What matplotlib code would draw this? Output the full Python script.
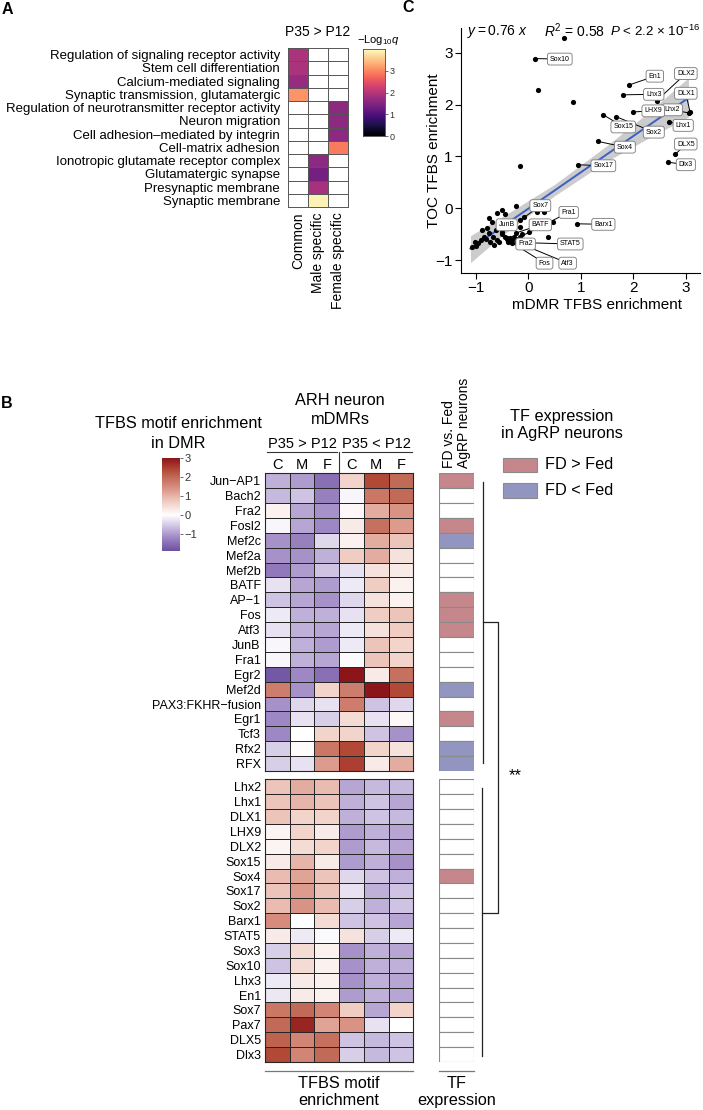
import numpy as np
import matplotlib
matplotlib.use('Agg')
import matplotlib.pyplot as plt
from matplotlib.colors import LinearSegmentedColormap, Normalize
from matplotlib.patches import Rectangle

plt.rcParams['font.family'] = ['Liberation Sans', 'DejaVu Sans']
plt.rcParams['mathtext.fontset'] = 'custom'
plt.rcParams['mathtext.rm'] = 'Liberation Sans'
plt.rcParams['mathtext.it'] = 'Liberation Sans:italic'

# ---------------- Panel A : GO enrichment (-log10 q), None = not enriched
go_terms = ['Regulation of signaling receptor activity', 'Stem cell differentiation',
            'Calcium-mediated signaling', 'Synaptic transmission, glutamatergic',
            'Regulation of neurotransmitter receptor activity', 'Neuron migration',
            'Cell adhesion\u2013mediated by integrin', 'Cell-matrix adhesion',
            'Ionotropic glutamate receptor complex', 'Glutamatergic synapse',
            'Presynaptic membrane', 'Synaptic membrane']
go_groups = ['Common', 'Male specific', 'Female specific']
go_common = [1.9, 1.9, 1.7, 3.1, None, None, None, None, None, None, None, None]
go_male = [None, None, None, None, None, None, None, None, 1.6, 1.35, 1.85, 3.9]
go_female = [None, None, None, None, 1.6, 1.6, 1.6, 2.9, None, None, None, None]

# ---------------- Panel B : TFBS motif enrichment (C, M, F for P35>P12 then P35<P12)
top_tfs = ['Jun\u2212AP1', 'Bach2', 'Fra2', 'Fosl2', 'Mef2c', 'Mef2a', 'Mef2b', 'BATF', 'AP\u22121',
           'Fos', 'Atf3', 'JunB', 'Fra1', 'Egr2', 'Mef2d', 'PAX3:FKHR\u2212fusion', 'Egr1',
           'Tcf3', 'Rfx2', 'RFX']
top_vals = [[-0.8, -1.0, -1.5, 0.6, 2.4, 2.0],
            [-0.7, -0.6, -1.3, -0.1, 1.8, 2.0],
            [0.2, -0.9, -1.1, 0.1, 1.1, 1.4],
            [-0.1, -0.9, -1.2, 0.3, 1.9, 1.3],
            [-1.1, -1.3, -0.4, 0.2, 1.1, 0.8],
            [-1.1, -1.1, -0.8, 0.7, 1.1, 0.4],
            [-1.4, -1.0, -0.6, -0.3, 0.4, 0.3],
            [-0.3, -0.9, -1.0, -0.2, 0.7, 0.2],
            [-0.6, -0.9, -1.1, -0.4, 0.4, 0.2],
            [-0.2, -0.8, -0.8, -0.3, 0.7, 0.8],
            [-0.3, -0.8, -0.9, -0.2, 0.4, 0.7],
            [-0.1, -0.8, -1.0, -0.2, 0.8, 0.6],
            [-0.1, -0.8, -0.9, -0.05, 0.8, 0.6],
            [-1.8, -1.2, -1.5, 3.0, 0.3, 1.9],
            [1.7, -1.1, 0.6, 1.7, 3.0, 2.4],
            [-1.1, -0.4, -0.3, 1.7, -0.6, -0.4],
            [-1.2, -0.3, -0.5, 0.5, -0.3, 0.1],
            [-1.2, 0.0, 0.6, 0.6, -0.6, -1.1],
            [-0.5, 0.05, 1.8, 2.4, 0.6, 0.4],
            [-0.5, -0.3, 1.3, 2.5, 0.3, 1.1]]
top_expr = ['up', '', '', 'up', 'down', '', '', '', 'up', 'up', 'up', '', '', '', 'down', '',
            'up', '', 'down', 'down']

bot_tfs = ['Lhx2', 'Lhx1', 'DLX1', 'LHX9', 'DLX2', 'Sox15', 'Sox4', 'Sox17', 'Sox2', 'Barx1',
           'STAT5', 'Sox3', 'Sox10', 'Lhx3', 'En1', 'Sox7', 'Pax7', 'DLX5', 'Dlx3']
bot_vals = [[0.8, 1.1, 0.9, -0.9, -0.7, -0.7],
            [0.8, 1.0, 0.8, -0.8, -0.6, -0.9],
            [0.8, 0.6, 0.6, -0.8, -0.6, -0.7],
            [0.15, 0.6, 0.3, -1.0, -0.8, -0.9],
            [0.15, 0.5, 0.6, -1.0, -0.7, -0.9],
            [0.3, 1.0, 0.3, -1.0, -0.8, -1.1],
            [0.9, 1.2, 0.8, -0.4, -0.6, -0.8],
            [0.8, 1.3, 0.8, -0.3, -0.8, -0.6],
            [0.9, 1.4, 0.9, -0.5, -0.8, -0.6],
            [1.5, 0.0, 0.5, -0.6, -0.6, -0.9],
            [0.3, -0.2, -0.05, 0.4, -0.5, -0.2],
            [-0.5, 0.5, 0.2, -1.1, -0.8, -0.9],
            [-0.6, 0.5, 0.2, -1.1, -0.8, -0.8],
            [-0.2, 0.3, 0.2, -1.1, -0.8, -0.9],
            [-0.25, 0.3, 0.2, -1.0, -0.8, -0.9],
            [1.8, 2.0, 1.6, 0.7, -0.9, 0.6],
            [2.0, 2.8, 1.2, 1.4, -0.3, 0.0],
            [2.1, 1.6, 1.9, -0.6, -0.7, -0.6],
            [2.4, 1.6, 2.0, -0.5, -0.7, -0.6]]
bot_expr = ['', '', '', '', '', '', 'up', '', '', '', '', '', '', '', '', '', '', '', '']

# ---------------- Panel C : mDMR vs TOC TFBS enrichment
lab_names = ['Sox10', 'En1', 'Lhx3', 'DLX2', 'DLX1', 'Lhx2', 'LHX9', 'Lhx1', 'Sox15', 'Sox2',
             'Sox4', 'Sox17', 'DLX5', 'Dlx3', 'Barx1', 'Sox7', 'JunB', 'BATF', 'Fra1', 'STAT5',
             'Fra2', 'Fos', 'Atf3']
lab_x = [0.12, 1.92, 1.81, 2.45, 3.08, 3.06, 2.0, 2.68, 1.42, 1.67, 1.33, 0.95, 2.8, 2.66,
         0.93, -0.15, -0.5, -0.24, -0.15, -0.21, -0.4, -0.38, -0.35]
lab_y = [2.89, 2.38, 2.19, 2.08, 1.86, 1.84, 1.86, 1.67, 1.81, 1.77, 1.29, 0.84, 1.04, 0.89,
         -0.30, -0.23, -0.45, -0.48, -0.55, -0.66, -0.58, -0.62, -0.6]
lab_tx = [0.60, 2.41, 2.39, 3.0, 3.0, 2.74, 2.38, 2.95, 1.81, 2.39, 1.84, 1.43, 3.0, 3.0,
          1.43, 0.23, -0.41, 0.23, 0.77, 0.8, -0.05, 0.31, 0.75]
lab_ty = [2.88, 2.55, 2.20, 2.6, 2.22, 1.90, 1.88, 1.6, 1.57, 1.47, 1.18, 0.82, 1.24, 0.84,
          -0.31, 0.05, -0.32, -0.32, -0.08, -0.69, -0.69, -1.06, -1.06]
other_x = [0.68, 0.18, 0.85, -0.15, 0.37, 0.48, -1.07, -1.0, -0.95, -0.9, -0.85, -0.8, -0.75,
           -0.72, -0.68, -0.65, -0.62, -0.88, -0.75, -0.69, -0.59, -0.5, -0.45, -0.24, -0.55,
           -0.5, -0.45, -0.4, -0.38, -0.33, -0.3, -0.35, -0.28, -0.2, -0.16, -0.08, 0.01, 0.17,
           0.30, -0.6, -0.55, -0.42, -0.3, -0.12, -1.02, -0.78]
other_y = [3.29, 2.28, 2.06, 0.82, -0.55, -0.26, -0.74, -0.72, -0.68, -0.62, -0.55, -0.6,
           -0.48, -0.65, -0.55, -0.7, -0.42, -0.42, -0.19, -0.26, -0.10, -0.03, -0.12, 0.04,
           -0.3, -0.5, -0.55, -0.6, -0.65, -0.62, -0.67, -0.58, -0.55, -0.6, -0.36, -0.16,
           -0.45, -0.07, -0.07, -0.62, -0.65, -0.35, -0.3, -0.5, -0.65, -0.38]
fit_x = [-1.1, 3.05]
fit_y = [-0.78, 2.13]
band_x = [-1.1, -0.5, 0.5, 1.5, 2.3, 3.05]
band_lo = [-1.05, -0.53, 0.24, 0.91, 1.36, 1.76]
band_hi = [-0.53, -0.17, 0.46, 1.21, 1.86, 2.52]

W, H = 703, 1110
fig = plt.figure(figsize=(W / 100, H / 100), dpi=100)


def box(x0, y0, x1, y1):
    # axes placed in pixel coords (origin top-left)
    return fig.add_axes([x0 / W, 1 - y1 / H, (x1 - x0) / W, (y1 - y0) / H])


over = box(0, 0, W, H)
over.set_xlim(0, W)
over.set_ylim(H, 0)
over.axis('off')

for lab, x, y in [('A', 7, 10), ('B', 7, 403), ('C', 408, 7)]:
    over.text(x, y, lab, fontsize=11.5, fontweight='bold', ha='center', va='center')

# ================= Panel A
axA = box(288.3, 48, 347.5, 207)
matA = np.array([go_common, go_male, go_female], dtype=float).T
axA.pcolormesh(np.arange(4), np.arange(len(go_terms) + 1), np.ma.masked_invalid(matA),
               cmap='magma', vmin=0, vmax=4)
axA.set_xlim(0, 3)
axA.set_ylim(len(go_terms), 0)
for k in range(1, len(go_terms)):
    axA.axhline(k, color='#555555', lw=0.7)
for k in range(1, 3):
    axA.axvline(k, color='#555555', lw=0.7)
for s in axA.spines.values():
    s.set_color('#555555')
    s.set_linewidth(0.7)
axA.set_yticks(np.arange(len(go_terms)) + 0.5, go_terms, fontsize=9.5)
axA.set_xticks(np.arange(3) + 0.5, go_groups, fontsize=10, rotation=90)
axA.tick_params(axis='y', length=0, pad=6)
axA.tick_params(axis='x', length=0, pad=4)
over.text(318, 32, 'P35 > P12', fontsize=10, ha='center', va='center')

cbA = box(363, 49, 385, 136)
cbA.imshow(np.linspace(4, 0, 256)[:, None], aspect='auto', cmap='magma', vmin=0, vmax=4,
           extent=[0, 1, 0, 4])
cbA.set_xticks([])
cbA.yaxis.tick_right()
cbA.set_yticks([0, 1, 2, 3])
cbA.tick_params(axis='y', labelsize=6.5, length=2, width=0.6, pad=1, color='#555555',
                labelcolor='#333333')
for s in cbA.spines.values():
    s.set_color('#444444')
    s.set_linewidth(0.6)
over.text(378, 40, r'$-\mathrm{Log}_{10}q$', fontsize=8, ha='center', va='center')

# ================= Panel C
axC = box(461, 28, 700, 273)
axC.patch.set_alpha(0)
axC.set_xlim(-1.28, 3.27)
axC.set_ylim(-1.25, 3.48)
axC.fill_between(band_x, band_lo, band_hi, color='#cccccc', lw=0, zorder=1)
axC.plot(fit_x, fit_y, color='#3b5fc4', lw=1.4, zorder=2)
axC.scatter(other_x, other_y, s=14, color='black', lw=0, zorder=3)
axC.scatter(lab_x, lab_y, s=14, color='black', lw=0, zorder=3)
for i, name in enumerate(lab_names):
    axC.plot([lab_x[i], lab_tx[i]], [lab_y[i], lab_ty[i]], color='black', lw=0.7, zorder=2.5)
    axC.text(lab_tx[i], lab_ty[i], name, fontsize=5, ha='center', va='center',
             zorder=4 + i * 0.01,
             bbox=dict(boxstyle='round,pad=0.35', fc='white', ec='#777777', lw=0.6))
axC.spines['top'].set_visible(False)
axC.spines['right'].set_visible(False)
for s in ['left', 'bottom']:
    axC.spines[s].set_linewidth(0.8)
axC.set_xticks([-1, 0, 1, 2, 3])
axC.set_yticks([-1, 0, 1, 2, 3])
axC.tick_params(direction='out', length=4, width=0.8, labelsize=11, pad=2)
over.text(596.7, 305, 'mDMR TFBS enrichment', fontsize=11, ha='center', va='center')
over.text(433.5, 150.5, 'TOC TFBS enrichment', fontsize=11, ha='center', va='center',
          rotation=90)
over.text(467, 31, r'$y = 0.76\ x$', fontsize=10, ha='left', va='center')
over.text(544, 31, r'$R^2$ = 0.58', fontsize=10, ha='left', va='center')
over.text(610, 31, r'$P$ < 2.2 $\times$ 10$^{-16}$', fontsize=9.6, ha='left', va='center')

# ================= Panel B
nodes = [(-1.9, '#6e50a0'), (-1.2, '#9f88c5'), (-0.6, '#cfc4e3'), (0.0, '#ffffff'),
         (0.8, '#edc5ba'), (1.5, '#d68b7c'), (2.0, '#c26a58'), (2.4, '#b24836'),
         (3.0, '#8c1519')]
cmapB = LinearSegmentedColormap.from_list(
    'tfbs', [((v + 1.9) / 4.9, c) for v, c in nodes])
normB = Normalize(-1.9, 3.0)

expr_col = {'up': '#c5878b', 'down': '#9295bf', '': 'white'}
blocks = [(top_tfs, top_vals, top_expr, 473.3, 771.0),
          (bot_tfs, bot_vals, bot_expr, 779.3, 1062.0)]
for names, vals, expr, y0, y1 in blocks:
    ax = box(265, y0, 413.3, y1)
    ax.pcolormesh(np.array(vals), cmap=cmapB, norm=normB, edgecolors='#262626', lw=0.7)
    ax.set_xlim(0, 6)
    ax.set_ylim(len(names), 0)
    ax.set_xticks([])
    ax.set_yticks(np.arange(len(names)) + 0.5, names, fontsize=9)
    ax.tick_params(length=0, pad=3)
    for s in ax.spines.values():
        s.set_color('#262626')
        s.set_linewidth(0.8)
    axT = box(439.3, y0, 474, y1)
    for i, e in enumerate(expr):
        axT.add_patch(Rectangle((0, i), 1, 1, fc=expr_col[e], ec='#8a8a8a', lw=0.8))
    axT.set_xlim(0, 1)
    axT.set_ylim(len(expr), 0)
    axT.axis('off')

cbB = box(162, 458, 180, 551)
cbB.imshow(np.linspace(3, -1.9, 256)[:, None], aspect='auto', cmap=cmapB, norm=normB,
           extent=[0, 1, -1.9, 3])
cbB.set_xticks([])
cbB.yaxis.tick_right()
cbB.set_yticks([-1, 0, 1, 2, 3], ['\u22121', '0', '1', '2', '3'])
cbB.tick_params(axis='y', labelsize=8, length=2, width=0.6, pad=1, color='#555555',
                labelcolor='#333333')
for s in cbB.spines.values():
    s.set_visible(False)

hfs = 11.7
over.text(178, 428, 'TFBS motif enrichment', fontsize=hfs, ha='center', va='baseline')
over.text(178, 448, 'in DMR', fontsize=hfs, ha='center', va='baseline')
over.text(340, 405, 'ARH neuron', fontsize=hfs, ha='center', va='baseline')
over.text(340, 424, 'mDMRs', fontsize=hfs, ha='center', va='baseline')
over.text(302, 448, 'P35 > P12', fontsize=10.5, ha='center', va='baseline')
over.text(376.5, 448, 'P35 < P12', fontsize=10.5, ha='center', va='baseline')
over.plot([267, 337], [452, 452], color='#333333', lw=0.8)
over.plot([341.5, 411.5], [452, 452], color='#333333', lw=0.8)
over.plot([339.3, 339.3], [452, 473.3], color='#333333', lw=0.8)
for k, lab in enumerate(['C', 'M', 'F', 'C', 'M', 'F']):
    over.text(265 + 12.35 + 24.7 * k, 469, lab, fontsize=10.5, ha='center', va='baseline')

over.text(449, 468.5, 'FD vs. Fed', fontsize=10, rotation=90, ha='center', va='bottom')
over.text(464, 468.5, 'AgRP neurons', fontsize=10, rotation=90, ha='center', va='bottom')

over.text(561.7, 421, 'TF expression', fontsize=hfs, ha='center', va='baseline')
over.text(561.7, 438, 'in AgRP neurons', fontsize=hfs, ha='center', va='baseline')
for (y0, y1), key, lab in [((457.7, 472), 'up', 'FD > Fed'), ((483, 497.7), 'down', 'FD < Fed')]:
    over.add_patch(Rectangle((503, y0), 34, y1 - y0, fc=expr_col[key], ec='#8a8a8a', lw=0.8))
    over.text(545, (y0 + y1) / 2, lab, fontsize=hfs, ha='left', va='center')

# significance bracket
bc = '#222222'
over.plot([482.7, 482.7], [481.7, 762.7], color=bc, lw=0.9)
over.plot([482.3, 482.3], [787.7, 1056], color=bc, lw=0.9)
over.plot([482.7, 498, 498, 482.3], [622, 622, 913.3, 913.3], color=bc, lw=0.9)
over.text(515, 776, '**', fontsize=12, ha='center', va='center')

# bottom captions
over.plot([265, 413.3], [1071, 1071], color='#777777', lw=0.9)
over.plot([439.3, 474], [1071, 1071], color='#777777', lw=0.9)
over.text(339, 1088, 'TFBS motif', fontsize=hfs, ha='center', va='baseline')
over.text(339, 1105, 'enrichment', fontsize=hfs, ha='center', va='baseline')
over.text(456.5, 1088, 'TF', fontsize=hfs, ha='center', va='baseline')
over.text(456.5, 1105, 'expression', fontsize=hfs, ha='center', va='baseline')

fig.savefig('out.png', dpi=100)
